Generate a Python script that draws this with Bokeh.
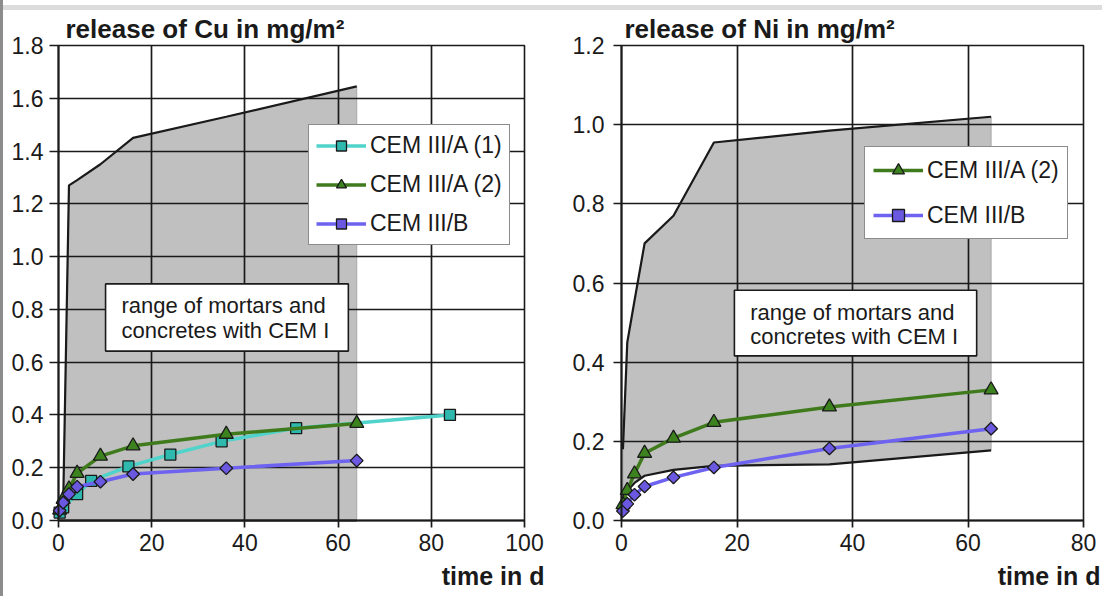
from bokeh.plotting import figure
from bokeh.models import (Legend, LegendItem, Label, BoxAnnotation, FixedTicker,
                          NumeralTickFormatter, Range1d, Div, Title)
from bokeh.layouts import row, column
from bokeh.embed import file_html
from bokeh.resources import INLINE

FONT = "Liberation Sans"
TXT = "#1a1a1a"

# ---------------- data: copper ----------------
cu_range_t = [0.25, 1, 2.25, 4, 9, 16, 36, 64]
cu_range_upper = [0.01, 0.06, 1.27, 1.29, 1.35, 1.45, 1.53, 1.645]
cu_range_lower = [0.0, 0.0, 0.0, 0.0, 0.0, 0.0, 0.0, 0.0]

cu_a1_t = [0.25, 1, 4, 7, 15, 24, 35, 51, 84]
cu_a1_v = [0.03, 0.05, 0.10, 0.15, 0.205, 0.25, 0.30, 0.35, 0.40]

cu_a2_t = [0.25, 1, 2.25, 4, 9, 16, 36, 64]
cu_a2_v = [0.04, 0.08, 0.12, 0.179, 0.244, 0.283, 0.327, 0.368]

cu_b_t = [0.25, 1, 2.25, 4, 9, 16, 36, 64]
cu_b_v = [0.038, 0.068, 0.100, 0.128, 0.147, 0.176, 0.198, 0.227]

# ---------------- data: nickel ----------------
ni_range_t = [0.25, 1, 2.25, 4, 9, 16, 36, 64]
ni_range_upper = [0.18, 0.45, 0.555, 0.70, 0.77, 0.955, 0.985, 1.02]
ni_range_lower = [0.06, 0.075, 0.095, 0.113, 0.128, 0.138, 0.142, 0.177]

ni_a2_t = [0.25, 1, 2.25, 4, 9, 16, 36, 64]
ni_a2_v = [0.04, 0.076, 0.118, 0.17, 0.208, 0.248, 0.287, 0.33]

ni_b_t = [0.25, 1, 2.25, 4, 9, 16, 36, 64]
ni_b_v = [0.024, 0.042, 0.065, 0.086, 0.109, 0.134, 0.182, 0.232]

cu_xticks = [0, 20, 40, 60, 80, 100]
cu_yticks = [0.0, 0.2, 0.4, 0.6, 0.8, 1.0, 1.2, 1.4, 1.6, 1.8]
ni_xticks = [0, 20, 40, 60, 80]
ni_yticks = [0.0, 0.2, 0.4, 0.6, 0.8, 1.0, 1.2]

labels_a1 = "CEM III/A (1)"
labels_a2 = "CEM III/A (2)"
labels_b = "CEM III/B"
range_text = ["range of mortars and", "concretes with CEM I"]
title_cu = "release of Cu in mg/m²"
title_ni = "release of Ni in mg/m²"
xlabel = "time in d"

C_CYAN_L, C_CYAN_M = "#4fd3ca", "#2fb8ae"
C_GREEN_L, C_GREEN_M = "#3f7b1c", "#3c821e"
C_PURP_L, C_PURP_M = "#6d63f0", "#6a58e0"
GRAY = "#c0c0c0"
EDGE = "#1a1a1a"


def make_fig(width, xmax, ymax, xticks, yticks, mbl, mbr, mbb, ytick_out, ystandoff,
             title, title_offset, xlab_offset):
    p = figure(width=width, height=586, x_range=Range1d(0, xmax), y_range=Range1d(0, ymax),
               output_backend="svg", toolbar_location=None, title=title,
               min_border_left=mbl, min_border_right=mbr, min_border_top=34,
               min_border_bottom=mbb)
    p.title.align = "left"
    p.title.offset = title_offset
    p.title.standoff = 3
    p.title.text_font = FONT
    p.title.text_font_size = "26px"
    p.title.text_font_style = "bold"
    p.title.text_color = TXT
    p.add_layout(Title(text=xlabel, align="right", offset=xlab_offset, standoff=13,
                       text_font=FONT, text_font_size="25px", text_font_style="bold",
                       text_color=TXT), "below")
    p.background_fill_color = "white"
    p.border_fill_color = "white"
    p.outline_line_color = EDGE
    p.outline_line_width = 1.6
    for g in (p.xgrid, p.ygrid):
        g.grid_line_color = EDGE
        g.grid_line_width = 1.7
        g.level = "glyph"
    p.xaxis.ticker = FixedTicker(ticks=xticks)
    p.yaxis.ticker = FixedTicker(ticks=yticks)
    p.xgrid.ticker = FixedTicker(ticks=xticks)
    p.ygrid.ticker = FixedTicker(ticks=yticks)
    p.yaxis.formatter = NumeralTickFormatter(format="0.0")
    for ax in (p.xaxis, p.yaxis):
        ax.axis_line_color = EDGE
        ax.axis_line_width = 2
        ax.major_tick_line_color = EDGE
        ax.major_tick_line_width = 1.7
        ax.major_tick_in = 0
        ax.minor_tick_line_color = None
        ax.major_label_text_font = FONT
        ax.major_label_text_font_size = "23px"
        ax.major_label_text_color = TXT
    p.xaxis.major_tick_out = 7
    p.xaxis.major_label_standoff = 6
    p.yaxis.major_tick_out = ytick_out
    p.yaxis.major_label_standoff = ystandoff
    return p


def add_range(p, t, upper, lower):
    xs = list(t) + list(reversed(t))
    ys = list(upper) + list(reversed(lower))
    p.patch(xs, ys, fill_color=GRAY, line_color="#a8a8a8", line_width=1, level="underlay")
    p.line(t, upper, line_color=EDGE, line_width=2.2, level="guide")
    p.line(t, lower, line_color=EDGE, line_width=2.2, level="guide")


def add_series(p, t, v, lc, mc, marker, size, angle=0.0):
    l = p.line(t, v, line_color=lc, line_width=3.5, level="guide")
    m = p.scatter(t, v, marker=marker, size=size, angle=angle, fill_color=mc,
                  line_color=EDGE, line_width=1.3, level="guide")
    return [l, m]


def add_box(p, left, right, bottom, top, tx, ty1, ty2):
    p.add_layout(BoxAnnotation(left=left, right=right, bottom=bottom, top=top,
                               fill_color="white", fill_alpha=1.0,
                               line_color=EDGE, line_width=1.6, line_alpha=1.0))
    for txt, ty in zip(range_text, (ty1, ty2)):
        p.add_layout(Label(x=tx, y=ty, text=txt, text_font=FONT, text_font_size="22px",
                           text_color=TXT, text_baseline="middle", text_align="left"))


def add_legend(p, items, loc, gh, spacing, padding):
    leg = Legend(items=[LegendItem(label=lab, renderers=r) for lab, r in items],
                 location=loc, orientation="vertical", margin=0, padding=padding,
                 glyph_width=50, glyph_height=gh, spacing=spacing, label_standoff=4,
                 label_text_font=FONT, label_text_font_size="23px", label_text_color=TXT,
                 border_line_color=EDGE, border_line_width=1.6,
                 background_fill_color="white", background_fill_alpha=1.0)
    p.add_layout(leg)


# ---------------- left: Cu ----------------
p1 = make_fig(547, 100, 1.8, cu_xticks, cu_yticks, 55, 26, 75, 9, 6, title_cu, 7, -20)
add_range(p1, cu_range_t, cu_range_upper, cu_range_lower)
r_a1 = add_series(p1, cu_a1_t, cu_a1_v, C_CYAN_L, C_CYAN_M, "square", 11)
r_a2 = add_series(p1, cu_a2_t, cu_a2_v, C_GREEN_L, C_GREEN_M, "triangle", 14)
r_b = add_series(p1, cu_b_t, cu_b_v, C_PURP_L, C_PURP_M, "square", 9, angle=0.7854)
add_box(p1, 10.1, 62.2, 0.642, 0.8965, 13.5, 0.815, 0.72)
add_legend(p1, [(labels_a1, r_a1), (labels_a2, r_a2), (labels_b, r_b)], (250, 275), 25, 12, 7)

# ---------------- right: Ni ----------------
p2 = make_fig(552, 80, 1.2, ni_xticks, ni_yticks, 71, 19, 76, 8, 9, title_ni, 3, -17)
add_range(p2, ni_range_t, ni_range_upper, ni_range_lower)
s_a2 = add_series(p2, ni_a2_t, ni_a2_v, C_GREEN_L, C_GREEN_M, "triangle", 14)
s_b = add_series(p2, ni_b_t, ni_b_v, C_PURP_L, C_PURP_M, "square", 9, angle=0.7854)
add_box(p2, 19.55, 61.5, 0.416, 0.5815, 22.3, 0.525, 0.466)
add_legend(p2, [(labels_a2, s_a2), (labels_b, s_b)], (243, 281), 30, 15, 8)

# ---------------- page frame ----------------
bar = Div(text="", width=3, height=596, margin=0, styles={"background-color": "#8c8c8c"})
top_white = Div(text="", width=1099, height=5, margin=0, styles={"background-color": "white"})
top_band = Div(text="", width=1099, height=5, margin=0, styles={"background-color": "#dcdcdc"})

charts = row(p1, p2, spacing=0)
layout = row(bar, column(top_white, top_band, charts, spacing=0), spacing=0)

open("out.html", "w").write(file_html(layout, INLINE))
